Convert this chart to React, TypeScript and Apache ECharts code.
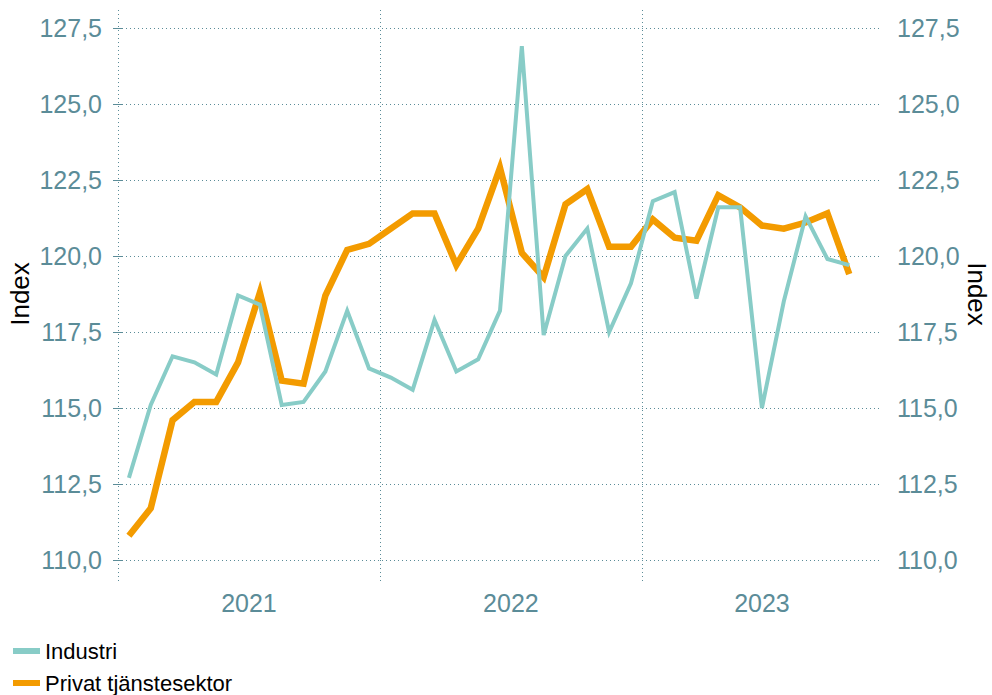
import React, { useEffect, useRef } from "react";
import * as echarts from "echarts";

const months = [
  "2021-01", "2021-02", "2021-03", "2021-04", "2021-05", "2021-06",
  "2021-07", "2021-08", "2021-09", "2021-10", "2021-11", "2021-12",
  "2022-01", "2022-02", "2022-03", "2022-04", "2022-05", "2022-06",
  "2022-07", "2022-08", "2022-09", "2022-10", "2022-11", "2022-12",
  "2023-01", "2023-02", "2023-03", "2023-04", "2023-05", "2023-06",
  "2023-07", "2023-08", "2023-09", "2023-10",
];
const totalMonths = 35; // axis runs Jan 2021 - Nov 2023
const years = ["2021", "2022", "2023"];
const yearStarts = [0, 12, 24];

const industri = [
  112.7, 115.1, 116.7, 116.5, 116.1, 118.7, 118.4, 115.1, 115.2, 116.2, 118.2, 116.3,
  116.0, 115.6, 117.9, 116.2, 116.6, 118.2, 126.9, 117.4, 120.0, 120.9, 117.5, 119.1,
  121.8, 122.1, 118.6, 121.6, 121.6, 115.0, 118.5, 121.3, 119.9, 119.7,
];
const privat = [
  110.8, 111.7, 114.6, 115.2, 115.2, 116.5, 118.8, 115.9, 115.8, 118.7, 120.2, 120.4,
  120.9, 121.4, 121.4, 119.7, 120.9, 122.9, 120.1, 119.3, 121.7, 122.2, 120.3, 120.3,
  121.2, 120.6, 120.5, 122.0, 121.6, 121.0, 120.9, 121.1, 121.4, 119.4,
];
const yTicks = [110, 112.5, 115, 117.5, 120, 122.5, 125, 127.5];
const yMin = 110;
const yMax = 128.09;

const AXIS_COLOR = "#5b8c98";
const FONT = "Liberation Sans, Arial, sans-serif";

export default function App() {
  const ref = useRef<HTMLDivElement>(null);

  useEffect(() => {
    document.body.style.margin = "0";
    if (!ref.current) return;
    const chart = echarts.init(ref.current, undefined, { renderer: "svg" });

    const dotted = { color: AXIS_COLOR, width: 1, type: [1, 3] as any };
    const fmtY = (v: number) => v.toFixed(1).replace(".", ",");

    // year label sits in the middle of the part of that year shown on the axis
    const yearCenters = yearStarts.map((s) => (s + Math.min(s + 12, totalMonths)) / 2);

    const yAxisBase = (pos: "left" | "right") => ({
      type: "value",
      position: pos,
      min: yMin,
      max: yMax,
      interval: 2.5,
      name: "Index",
      nameLocation: "middle",
      nameMoveOverlap: false,
      nameGap: pos === "left" ? 85 : 82,
      nameRotate: pos === "left" ? 90 : -90,
      nameTextStyle: {
        color: "#000",
        fontSize: 26,
        fontFamily: FONT,
        padding: pos === "left" ? [0, 18, 0, 0] : [0, 0, 0, 18],
      },
      axisLine: { show: false },
      axisTick: {
        show: true,
        length: 5,
        customValues: yTicks,
        lineStyle: { color: AXIS_COLOR, width: 1 },
      },
      axisLabel: {
        show: true,
        customValues: yTicks,
        formatter: fmtY,
        color: AXIS_COLOR,
        fontSize: 25,
        fontFamily: FONT,
        margin: pos === "left" ? 16 : 15,
      },
      splitLine: pos === "left"
        ? { show: true, lineStyle: dotted }
        : { show: false },
    });

    const legendBase = {
      orient: "vertical",
      left: 13,
      itemWidth: 27,
      itemHeight: 6,
      icon: "rect",
      padding: 0,
      textStyle: { color: "#000", fontSize: 22, fontFamily: FONT },
    };

    chart.setOption({
      animation: false,
      backgroundColor: "#fff",
      grid: {
        left: 118,
        right: 110,
        top: 10,
        bottom: 135,
        containLabel: false,
        outerBoundsMode: "none",
      },
      xAxis: [
        {
          type: "value",
          position: "bottom",
          min: 0,
          max: totalMonths,
          interval: 12,
          axisLine: { show: false },
          axisLabel: { show: false },
          axisTick: {
            show: true,
            length: 23,
            customValues: yearStarts,
            lineStyle: dotted,
          },
          splitLine: { show: true, lineStyle: dotted },
        },
        {
          type: "value",
          position: "bottom",
          min: 0,
          max: totalMonths,
          interval: 6,
          axisLine: { show: false },
          axisTick: { show: false },
          splitLine: { show: false },
          axisLabel: {
            show: true,
            customValues: yearCenters,
            margin: 30,
            color: AXIS_COLOR,
            fontSize: 25,
            fontFamily: FONT,
            formatter: (v: number) => {
              const k = yearCenters.findIndex((c) => Math.abs(c - v) < 1e-6);
              return k >= 0 ? years[k] : "";
            },
          },
        },
      ],
      yAxis: [yAxisBase("left"), yAxisBase("right")],
      legend: [
        { ...legendBase, top: 640, data: ["Industri"] },
        { ...legendBase, top: 672, data: ["Privat tjänstesektor"] },
      ],
      series: [
        {
          name: "Industri",
          type: "line",
          xAxisIndex: 0,
          yAxisIndex: 0,
          showSymbol: false,
          symbol: "none",
          color: "#88ccc7",
          lineStyle: { color: "#88ccc7", width: 4, join: "miter", miterLimit: 10 },
          data: months.map((_, i) => [i + 0.5, industri[i]]),
          z: 3,
        },
        {
          name: "Privat tjänstesektor",
          type: "line",
          xAxisIndex: 0,
          yAxisIndex: 0,
          showSymbol: false,
          symbol: "none",
          color: "#f39b00",
          lineStyle: { color: "#f39b00", width: 6.5, join: "miter", miterLimit: 10 },
          data: months.map((_, i) => [i + 0.5, privat[i]]),
          z: 2,
        },
      ],
    });

    return () => chart.dispose();
  }, []);

  return <div ref={ref} style={{ width: 992, height: 695 }} />;
}
